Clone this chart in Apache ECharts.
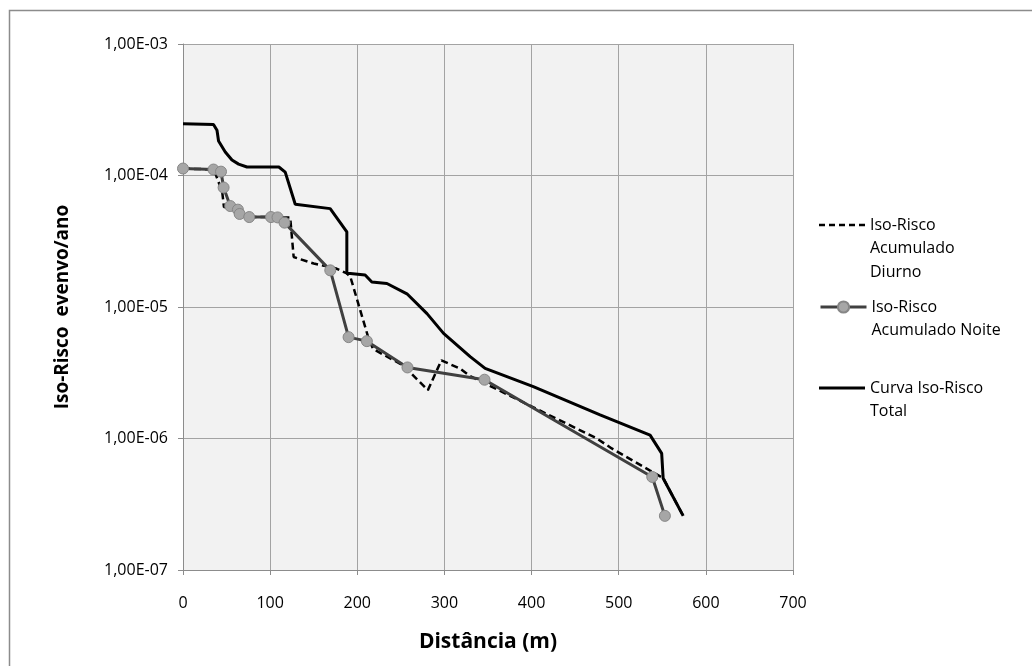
<!DOCTYPE html>
<html>
<head>
<meta charset="utf-8">
<script src="https://cdn.jsdelivr.net/npm/echarts@6/dist/echarts.min.js"></script>
<style>
  html, body { margin: 0; padding: 0; background: #ffffff; }
  #chart { width: 1032px; height: 666px; }
</style>
</head>
<body>
<div id="chart"></div>
<script>
// ---- data ----
const seriesNames = ['Iso-Risco\nAcumulado\nDiurno', 'Iso-Risco\nAcumulado Noite', 'Curva Iso-Risco\nTotal'];

const diurnoX = [0, 35, 38, 45, 47, 55, 63, 65, 76, 101, 109, 123, 127, 150, 176, 188, 192, 212.5, 218, 252.5, 281, 296.5, 318, 329, 374, 475, 492, 536, 551, 574];
const diurnoY = [1.13e-4, 1.11e-4, 1.0e-4, 7.5e-5, 5.75e-5, 5.7e-5, 5.5e-5, 5.1e-5, 4.83e-5, 4.83e-5, 4.8e-5, 4.8e-5, 2.4e-5, 2.14e-5, 1.96e-5, 1.8e-5, 1.7e-5, 5.9e-6, 4.8e-6, 3.6e-6, 2.33e-6, 3.93e-6, 3.4e-6, 3.0e-6, 2.13e-6, 1.0e-6, 8.4e-7, 5.7e-7, 5.0e-7, 2.58e-7];

const noiteX = [0, 35, 43.6, 46.6, 54.2, 63, 65, 76, 101, 108.5, 116.5, 169, 190, 211, 257.6, 346, 538.5, 553];
const noiteY = [1.13e-4, 1.11e-4, 1.07e-4, 8.1e-5, 5.86e-5, 5.5e-5, 5.1e-5, 4.83e-5, 4.83e-5, 4.8e-5, 4.38e-5, 1.9e-5, 5.9e-6, 5.5e-6, 3.47e-6, 2.8e-6, 5.1e-7, 2.58e-7];

const totalX = [0, 35, 39, 40.8, 48.5, 56.2, 63.8, 73.4, 110, 117.3, 128.8, 168.9, 188, 188, 192, 209, 216.7, 234, 257, 280, 299, 329.5, 346.7, 402, 478.6, 536, 549.3, 551, 574];
const totalY = [2.48e-4, 2.44e-4, 2.21e-4, 1.83e-4, 1.51e-4, 1.31e-4, 1.22e-4, 1.16e-4, 1.16e-4, 1.06e-4, 6.05e-5, 5.6e-5, 3.73e-5, 1.8e-5, 1.8e-5, 1.75e-5, 1.55e-5, 1.51e-5, 1.26e-5, 8.9e-6, 6.3e-6, 4.19e-6, 3.41e-6, 2.48e-6, 1.51e-6, 1.06e-6, 7.7e-7, 4.99e-7, 2.58e-7];

const xTicks = [0, 100, 200, 300, 400, 500, 600, 700];
const yTickLabels = ['1,00E-07', '1,00E-06', '1,00E-05', '1,00E-04', '1,00E-03'];
const xTitle = 'Distância (m)';
const yTitle = 'Iso-Risco  evenvo/ano';

// ---- chart ----
const pairs = (xs, ys) => xs.map((x, i) => [x, ys[i]]);
const FONT = '"Open Sans", "Noto Sans", sans-serif';
const chart = echarts.init(document.getElementById('chart'), null, { renderer: 'canvas' });

const LH = 23.5;
const DASH_ICON = 'path://M0,0h6v2.6h-6z M10,0h6v2.6h-6z M20,0h6v2.6h-6z M30,0h6v2.6h-6z M40,0h6v2.6h-6z';
const SOLID_ICON = 'path://M0,0h46v3h-46z';

function legendFor(name, iconCenterY, lines, icon, itemHeight, extra) {
  const blank = lines - 1;
  const totalLines = lines + blank;
  return Object.assign({
    data: [icon ? { name: name, icon: icon } : name],
    left: 819,
    top: iconCenterY - totalLines * LH / 2,
    orient: 'vertical',
    padding: 0,
    itemWidth: 46,
    itemHeight: itemHeight,
    itemGap: 0,
    selectedMode: false,
    formatter: n => '\n'.repeat(blank) + n,
    textStyle: { fontFamily: FONT, fontSize: 16, color: '#000', lineHeight: LH }
  }, extra || {});
}

chart.setOption({
  animation: false,
  backgroundColor: '#ffffff',
  graphic: [{
    type: 'rect',
    shape: { x: 9.5, y: 10.5, width: 1100, height: 800 },
    style: { fill: 'none', stroke: '#8c8c8c', lineWidth: 1.5 },
    silent: true, z: -10
  }],
  grid: {
    left: 183, right: 239, top: 44, bottom: 96,
    show: true, backgroundColor: '#f2f2f2', borderWidth: 0
  },
  legend: [
    legendFor(seriesNames[0], 225, 3, DASH_ICON, 2.6),
    legendFor(seriesNames[1], 307, 2, null, 14, { lineStyle: { width: 3, color: '#404040' } }),
    legendFor(seriesNames[2], 388, 2, SOLID_ICON, 3)
  ],
  xAxis: {
    type: 'value', min: xTicks[0], max: xTicks[xTicks.length - 1], interval: 100,
    name: xTitle, nameLocation: 'middle', nameGap: 62,
    nameTextStyle: { fontFamily: FONT, fontSize: 21, fontWeight: 'bold', color: '#000' },
    axisLine: { show: true, onZero: false, lineStyle: { color: '#8c8c8c', width: 1 } },
    axisTick: { show: true, length: 5, lineStyle: { color: '#8c8c8c' } },
    axisLabel: { fontFamily: FONT, fontSize: 16, color: '#000', margin: 25 },
    splitLine: { show: true, lineStyle: { color: '#a3a3a3', width: 1 } }
  },
  yAxis: {
    type: 'log', logBase: 10, min: 1e-7, max: 1e-3,
    name: yTitle, nameLocation: 'middle', nameGap: 111, nameRotate: 90,
    nameTextStyle: { fontFamily: FONT, fontSize: 19, fontWeight: 'bold', color: '#000' },
    axisLine: { show: true, lineStyle: { color: '#8c8c8c', width: 1 } },
    axisTick: { show: true, length: 5, lineStyle: { color: '#8c8c8c' } },
    axisLabel: {
      fontFamily: FONT, fontSize: 16, color: '#000', margin: 15,
      formatter: v => yTickLabels[Math.round(Math.log10(v)) + 7]
    },
    splitLine: { show: true, lineStyle: { color: '#a3a3a3', width: 1 } }
  },
  series: [
    {
      name: seriesNames[0], type: 'line', data: pairs(diurnoX, diurnoY),
      symbol: 'none', showSymbol: false,
      lineStyle: { color: '#000', width: 2.5, type: [7, 4] },
      itemStyle: { color: '#000' }, z: 2
    },
    {
      name: seriesNames[1], type: 'line', data: pairs(noiteX, noiteY),
      symbol: 'circle', symbolSize: 11, showSymbol: true,
      lineStyle: { color: '#404040', width: 3 },
      itemStyle: { color: '#a6a6a6', borderColor: '#868686', borderWidth: 1 }, z: 3
    },
    {
      name: seriesNames[2], type: 'line', data: pairs(totalX, totalY),
      symbol: 'none', showSymbol: false,
      lineStyle: { color: '#000', width: 3 },
      itemStyle: { color: '#000' }, z: 4
    }
  ]
});
</script>
</body>
</html>
